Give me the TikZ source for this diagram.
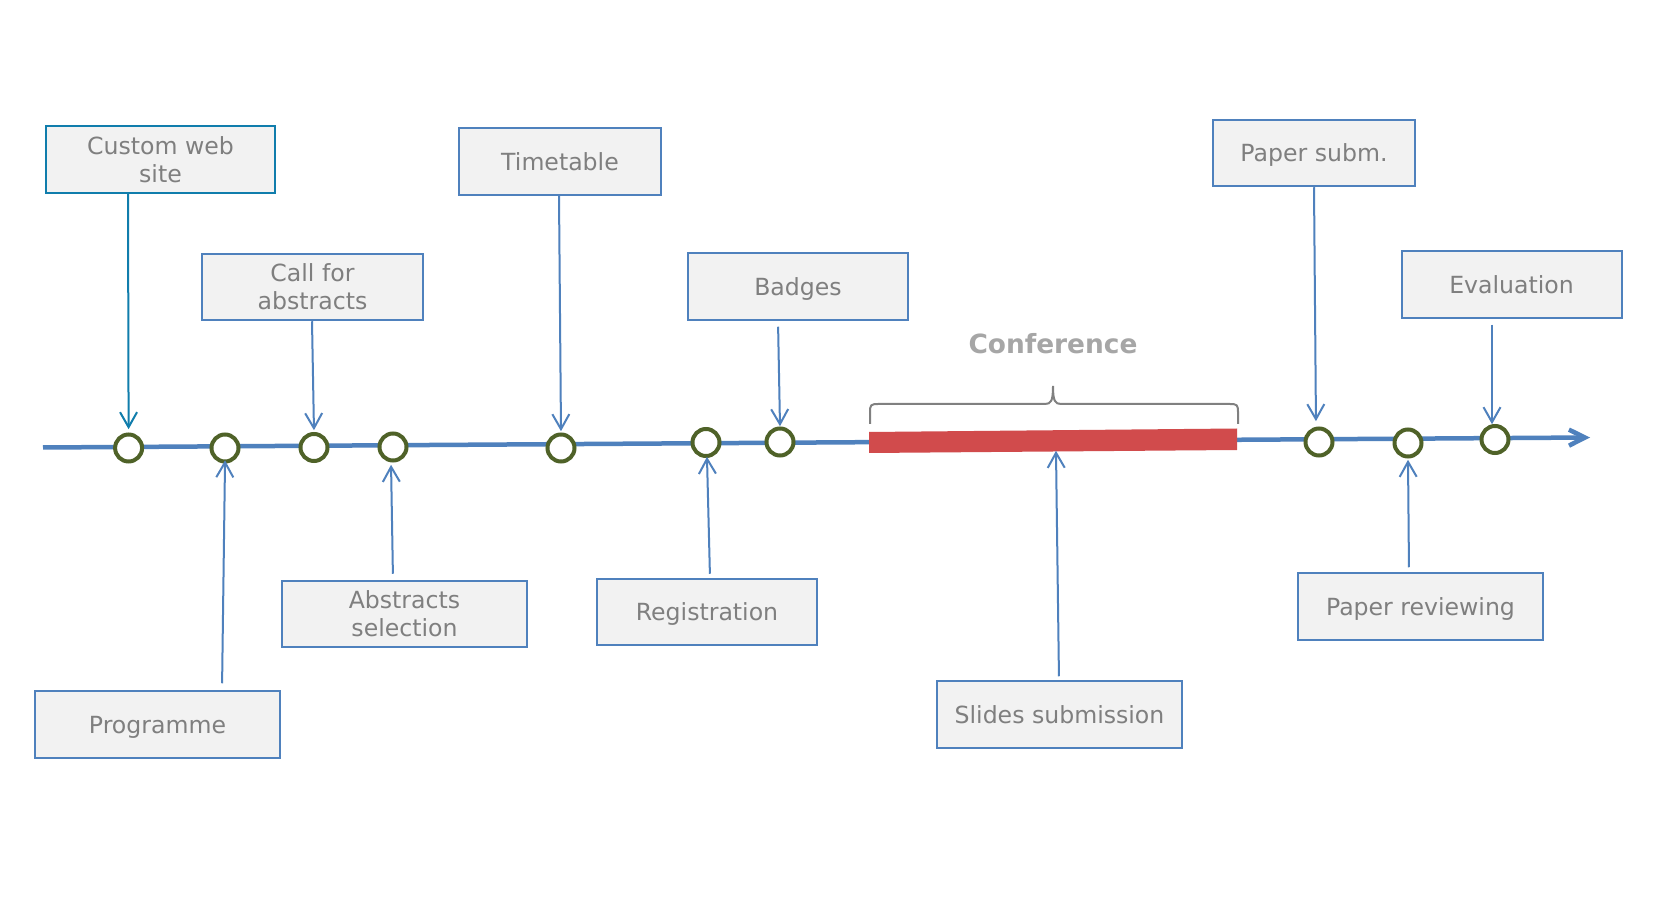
\documentclass[tikz,border=0pt]{standalone}
\usepackage{fontspec}
\setmainfont{DejaVu Sans}
\usetikzlibrary{arrows.meta}
\definecolor{tlblue}{RGB}{79,129,189}
\definecolor{cwteal}{RGB}{16,125,172}
\definecolor{evgreen}{RGB}{79,98,40}
\definecolor{barred}{RGB}{209,75,76}
\definecolor{bracegray}{RGB}{128,128,128}
\definecolor{conftxt}{RGB}{166,166,166}
\definecolor{txtgray}{RGB}{127,127,127}
\definecolor{boxfill}{RGB}{242,242,242}
\tikzset{
  box/.style={draw=tlblue, line width=1pt, fill=boxfill, text=txtgray, align=center,
    inner sep=0pt, minimum height=33.25pt, font=\fontsize{11.8}{14.2}\selectfont},
  oneline/.style={text depth=0pt},
  evt/.style={circle, draw=evgreen, line width=2pt, fill=white, minimum size=13.5pt, inner sep=0pt},
  conn/.style={draw=tlblue, line width=1pt, -{Straight Barb[length=7.5pt,width=8.5pt]}},
  timeline/.style={draw=tlblue, line width=2.25pt, -{Straight Barb[length=8pt,width=8pt]}},
  bracestyle/.style={draw=bracegray, line width=1pt},
}
\begin{document}
\begin{tikzpicture}[x=0.5pt,y=-0.5pt]
\useasboundingbox (0,0) rectangle (1677,898);
\fill[white] (0,0) rectangle (1677,898);

% timeline
\coordinate (tlstart) at (43,447.5);
\coordinate (tlend) at (1590,437.5);
\draw[timeline] (tlstart) -- (tlend);

% conference bar
\fill[barred] (869,432) -- (1237,428.5) -- (1237,450) -- (869,453) -- cycle;
\coordinate (barbot) at (1056,452);

% brace
\draw[bracestyle] (870,424) -- (870,412) .. controls (870,405) and (871,404) .. (878,404)
  -- (1045,404) .. controls (1051,404) and (1053,401) .. (1053,386)
  .. controls (1053,401) and (1055,404) .. (1061,404)
  -- (1230,404) .. controls (1237,404) and (1238,405) .. (1238,412) -- (1238,424);
\node[text=conftxt, font=\fontsize{13.2}{16}\selectfont\bfseries] (conf) at (1053,344) {Conference};

% events
\node[evt] (c1) at (128.6,448) {};
\node[evt] (c2) at (225,448) {};
\node[evt] (c3) at (314,447.5) {};
\node[evt] (c4) at (393,447) {};
\node[evt] (c5) at (561,448) {};
\node[evt] (c6) at (706,442.5) {};
\node[evt] (c7) at (780,442) {};
\node[evt] (c8) at (1319,442) {};
\node[evt] (c9) at (1408,443) {};
\node[evt] (c10) at (1495,439.5) {};

% boxes
\node[box, draw=cwteal, minimum width=114.5pt] (cw) at (160.5,159.5) {Custom web\\site};
\node[box, minimum width=110.5pt] (cfa) at (312.5,287) {Call for\\abstracts};
\node[box, oneline, minimum width=101pt] (tt) at (560,161.5) {Timetable};
\node[box, oneline, minimum width=110pt] (bd) at (798,286.5) {Badges};
\node[box, oneline, minimum width=101pt] (ps) at (1314,153) {Paper subm.};
\node[box, oneline, minimum width=110pt] (ev) at (1511.5,284.5) {Evaluation};
\node[box, oneline, minimum width=122.5pt] (pg) at (157.5,724.5) {Programme};
\node[box, minimum width=122.5pt] (as) at (404.5,614) {Abstracts\\selection};
\node[box, oneline, minimum width=110pt] (rg) at (707,612) {Registration};
\node[box, oneline, minimum width=122.5pt] (ss) at (1059.5,714.5) {Slides submission};
\node[box, oneline, minimum width=122.5pt] (pr) at (1420.5,606.5) {Paper reviewing};

% connectors down
\draw[conn, draw=cwteal, shorten >=1.65pt] ([xshift=-16.25pt]cw.south) -- (c1.north);
\draw[conn, shorten >=0.9pt] ([xshift=-0.25pt]cfa.south) -- (c3.north);
\draw[conn, shorten >=0.65pt] ([xshift=-0.5pt]tt.south) -- (c5.north);
\draw[conn, shorten <=3pt, shorten >=0.15pt] ([xshift=-10pt]bd.south) -- (c7.north);
\draw[conn, shorten >=2.65pt] (ps.south) -- ([xshift=-1.5pt]c8.north);
\draw[conn, shorten <=3pt, shorten >=-0.1pt] ([xshift=-9.75pt]ev.south) -- ([xshift=-1.5pt]c10.north);
% connectors up
\draw[conn, shorten <=3.5pt, shorten >=-1.6pt] ([xshift=32.25pt]pg.north) -- (c2.south);
\draw[conn, shorten <=3pt, shorten >=1.15pt] ([xshift=-5.75pt]as.north) -- ([xshift=-1pt]c4.south);
\draw[conn, shorten <=2pt, shorten >=-0.6pt] ([xshift=1.5pt]rg.north) -- ([xshift=0.5pt]c6.south);
\draw[conn, shorten <=2pt, shorten >=-0.6pt] ([xshift=-0.25pt]ss.north) -- (barbot);
\draw[conn, shorten <=2.5pt, shorten >=0.65pt] ([xshift=-5.75pt]pr.north) -- (c9.south);
\end{tikzpicture}
\end{document}
